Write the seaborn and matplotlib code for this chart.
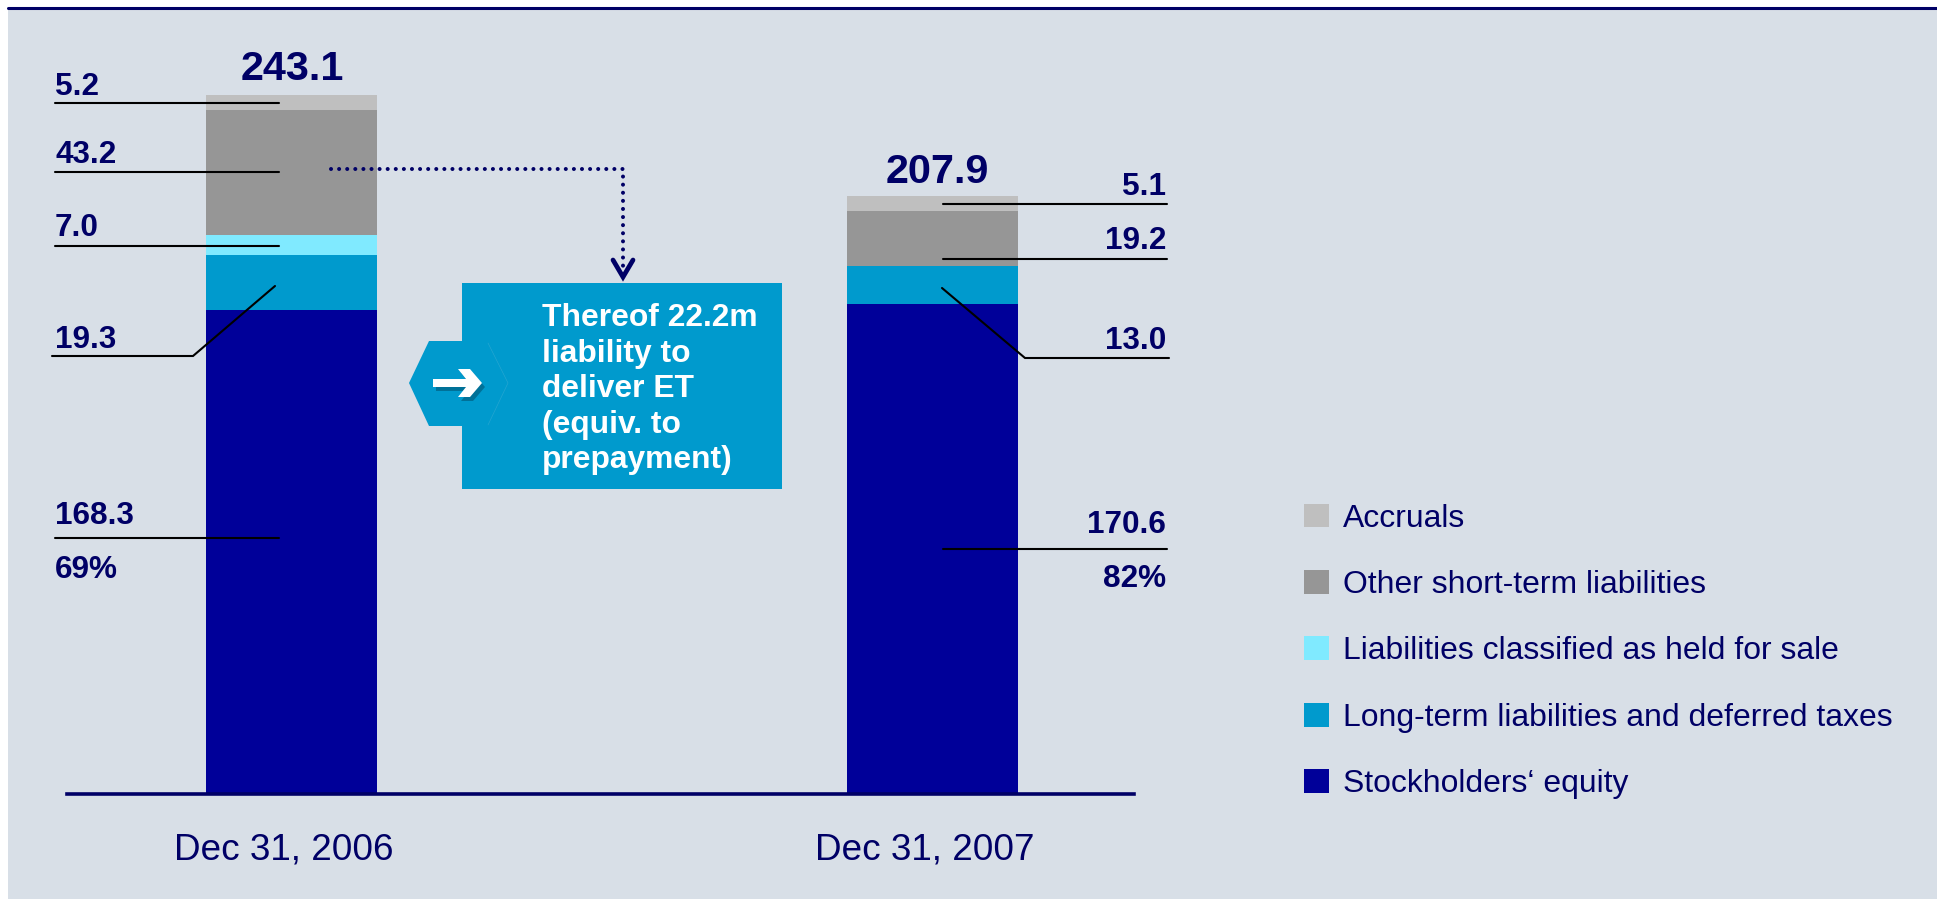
import matplotlib
matplotlib.use("Agg")
import matplotlib.pyplot as plt
import pandas as pd
import seaborn as sns
from matplotlib.lines import Line2D
from matplotlib.patches import Patch, Polygon, Rectangle
from matplotlib.transforms import Affine2D, ScaledTranslation

# Balance sheet composition, EUR m
dates = ["Dec 31, 2006", "Dec 31, 2007"]
series = [
    "Stockholders‘ equity",
    "Long-term liabilities and deferred taxes",
    "Liabilities classified as held for sale",
    "Other short-term liabilities",
    "Accruals",
]
equity = [168.3, 170.6]
long_term = [19.3, 13.0]
held_for_sale = [7.0, 0.0]
other_short_term = [43.2, 19.2]
accruals = [5.2, 5.1]
totals = ["243.1", "207.9"]
equity_shares = ["69%", "82%"]
note_lines = ["Thereof 22.2m", "liability to", "deliver ET", "(equiv. to", "prepayment)"]

colors = ["#000099", "#009ACD", "#80EAFF", "#969696", "#BFBFBF"]
NAVY = "#000066"
BACKGROUND = "#D8DFE7"
W, H = 1937, 899

sns.set_style("white")
plt.rcParams["font.family"] = ["Liberation Sans", "DejaVu Sans"]

fig = plt.figure(figsize=(W / 100, H / 100), dpi=100, facecolor="white")
# Overlay coordinates: pixels from the top-left corner
px = Affine2D().scale(1 / W, -1 / H).translate(0, 1) + fig.transFigure

fig.add_artist(Rectangle((8, 9), W - 8, H - 9, transform=px, fc=BACKGROUND, ec="none", zorder=-5))
fig.add_artist(Line2D([8, W], [8, 8], transform=px, color=NAVY, lw=2.2, zorder=-4))

ax = fig.add_axes([67 / W, (H - 794) / H, (1134 - 67) / W, 785 / H])
ax.patch.set_alpha(0)

df = pd.DataFrame(
    {
        "date": dates,
        series[0]: equity,
        series[1]: long_term,
        series[2]: held_for_sale,
        series[3]: other_short_term,
        series[4]: accruals,
    }
)
cumulative = df[series].cumsum(axis=1)
cumulative["date"] = df["date"]

# Stack by painting the running totals from tallest to shortest
for name, color in reversed(list(zip(series, colors))):
    sns.barplot(
        data=cumulative, x="date", y=name, color=color, saturation=1,
        width=0.2668, linewidth=0, ax=ax,
    )

ax.set_xlim(-0.350, 1.314)
ax.set_ylim(0, 785 / 2.875)
ax.set(xlabel=None, ylabel=None, yticks=[])
sns.despine(ax=ax, left=True)
ax.spines["bottom"].set_color(NAVY)
ax.spines["bottom"].set_linewidth(2.6)
ax.tick_params(axis="x", length=0, pad=27.7, labelsize=26.6, labelcolor=NAVY)
for tick in ax.get_xticklabels():
    tick.set_transform(tick.get_transform() + ScaledTranslation(-8 / 100, 0, fig.dpi_scale_trans))


def label(x, y, text, **kw):
    opts = dict(transform=px, color=NAVY, fontweight="bold", fontsize=22.7, va="baseline", zorder=6)
    opts.update(kw)
    fig.text(x, y, text, **opts)


def leader(xs, ys):
    fig.add_artist(Line2D(xs, ys, transform=px, color="black", lw=1.5, zorder=5, solid_joinstyle="miter"))


# Totals above the columns
label(292, 80, totals[0], ha="center", fontsize=29.8)
label(937, 183, totals[1], ha="center", fontsize=29.8)

# Segment values and leader lines, first column
label(55, 95, f"{accruals[0]:.1f}")
leader([55, 279], [103, 103])
label(55, 163, f"{other_short_term[0]:.1f}")
leader([55, 279], [172, 172])
label(55, 236, f"{held_for_sale[0]:.1f}")
leader([55, 279], [246, 246])
label(55, 347.5, f"{long_term[0]:.1f}")
leader([52, 193, 275], [356, 356, 286])
label(55, 524, f"{equity[0]:.1f}")
leader([55, 279], [538, 538])
label(55, 578, equity_shares[0])

# Segment values and leader lines, second column
label(1166, 195, f"{accruals[1]:.1f}", ha="right")
leader([943, 1167], [204, 204])
label(1166, 249, f"{other_short_term[1]:.1f}", ha="right")
leader([943, 1167], [259, 259])
label(1166, 349, f"{long_term[1]:.1f}", ha="right")
leader([942, 1025, 1169], [288, 358, 358])
label(1166, 533, f"{equity[1]:.1f}", ha="right")
leader([943, 1167], [549, 549])
label(1166, 587, equity_shares[1], ha="right")

# Dotted connector from the short-term segment to the note
fig.add_artist(Line2D([331, 622.5, 622.5], [169, 169, 266], transform=px, color=NAVY, lw=2.9,
                      linestyle=(0, (0.01, 2.0)), dash_capstyle="round", zorder=6))
fig.add_artist(Line2D([613, 623, 633], [260, 277, 260], transform=px, color=NAVY, lw=3.4,
                      solid_joinstyle="miter", zorder=6))

# Note box with hexagonal tab and arrow
BOX = "#009ACD"
fig.add_artist(Rectangle((462, 283), 320, 206, transform=px, fc=BOX, ec="none", zorder=4))
fig.add_artist(Polygon([(409, 383), (429, 341), (489, 341), (507, 383), (489, 426), (429, 426)],
                       transform=px, fc=BOX, ec="none", zorder=4.1))
fig.add_artist(Line2D([488, 508, 488], [343, 383, 425], transform=px, color="#4FB3D6", lw=0.5,
                      alpha=0.45, zorder=4.15))
arrow = [(433, 379), (466, 379), (458, 369), (470, 369), (482, 383), (470, 397), (458, 397), (466, 387), (433, 387)]
fig.add_artist(Polygon([(x + 3, y + 4) for x, y in arrow], transform=px, fc="#00506E", ec="none", alpha=0.55, zorder=4.2))
fig.add_artist(Polygon(arrow, transform=px, fc="white", ec="none", zorder=4.3))
for line, y in zip(note_lines, [326, 362, 397, 433, 468]):
    label(541.5, y, line, color="white", fontsize=22.9)

# Legend, top segment first
handles = [Patch(fc=c, ec="none", label=s) for s, c in zip(series[::-1], colors[::-1])]
fig.legend(
    handles=handles, loc="upper left", bbox_to_anchor=(1304 / W, 1 - 503.5 / H), frameon=False,
    fontsize=22.95, labelcolor=NAVY, handlelength=0.78, handleheight=0.78, handletextpad=0.44,
    labelspacing=1.14, borderpad=0, borderaxespad=0,
)

fig.savefig("out.png", dpi=100, facecolor="white")
